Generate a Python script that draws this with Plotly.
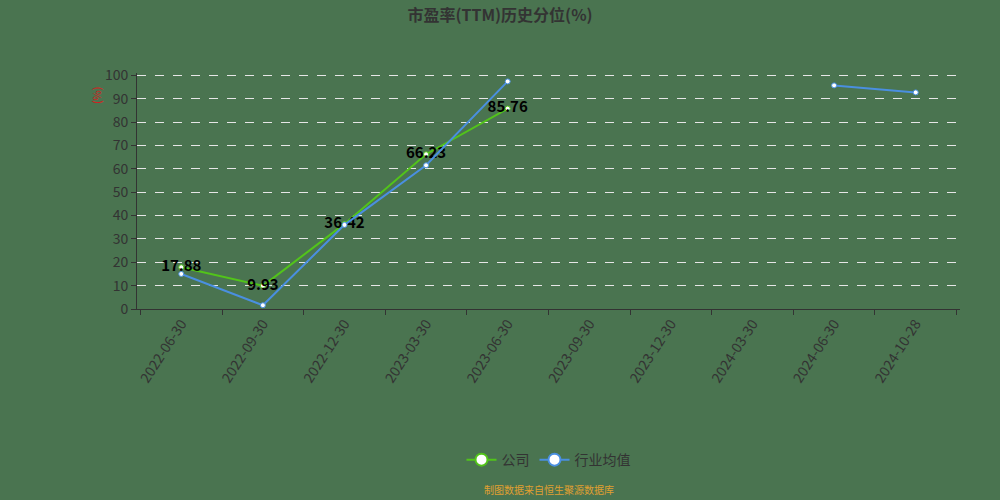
import plotly.graph_objects as go

# --- Data ---
dates = ['2022-06-30', '2022-09-30', '2022-12-30', '2023-03-30', '2023-06-30',
         '2023-09-30', '2023-12-30', '2024-03-30', '2024-06-30', '2024-10-28']
company = [17.88, 9.93, 36.42, 66.23, 85.76, None, None, None, None, None]
industry = [15.0, 1.6, 36.0, 61.5, 97.4, None, None, None, 95.7, 92.7]
company_labels = [f"{v:.2f}" if v is not None else "" for v in company]

BG = '#4a7450'
GREEN = '#52c41a'
BLUE = '#4a8fe0'
AXIS = '#333333'
FONT = 'Noto Sans CJK SC'

fig = go.Figure()

fig.add_scatter(
    x=dates, y=company, name='公司', mode='lines+markers+text',
    text=company_labels, textposition='middle center',
    textfont=dict(size=15, color='#000000', family=FONT, weight='bold'),
    line=dict(color=GREEN, width=2), legendgroup='c', showlegend=False,
    marker=dict(size=5, color='white', line=dict(color=GREEN, width=1)),
)
fig.add_scatter(
    x=dates, y=industry, name='行业均值', mode='lines+markers',
    line=dict(color=BLUE, width=2), legendgroup='i', showlegend=False,
    marker=dict(size=5, color='white', line=dict(color=BLUE, width=1)),
)

# legend-only entries with the bigger circle symbol
fig.add_scatter(x=[None], y=[None], name='公司', mode='lines+markers', legendgroup='c',
                line=dict(color=GREEN, width=2),
                marker=dict(size=12, color='white', line=dict(color=GREEN, width=2)))
fig.add_scatter(x=[None], y=[None], name='行业均值', mode='lines+markers', legendgroup='i',
                line=dict(color=BLUE, width=2),
                marker=dict(size=12, color='white', line=dict(color=BLUE, width=2)))

# --- Axis / layout styling ---
fig.update_xaxes(
    type='category', categoryorder='array', categoryarray=dates,
    tickson='boundaries', ticks='outside', ticklen=5, tickcolor=AXIS,
    showline=True, linecolor=AXIS, linewidth=1, showgrid=False,
    tickangle=-57, tickfont=dict(size=14, color=AXIS, family=FONT),
)
fig.update_yaxes(
    range=[0, 101], tickvals=list(range(0, 101, 10)), ticks='outside', ticklen=5,
    tickcolor=AXIS, showline=True, linecolor=AXIS, linewidth=1,
    gridcolor='#e6e6e6', griddash='dash', gridwidth=1, zeroline=False,
    tickfont=dict(size=14, color=AXIS, family=FONT),
)

fig.update_layout(
    width=1000, height=500,
    paper_bgcolor=BG, plot_bgcolor=BG,
    margin=dict(l=137, r=40, t=73, b=191),
    title=dict(text='<b>市盈率(TTM)历史分位(%)</b>', x=0.5, xanchor='center',
               y=0.97, yanchor='middle',
               font=dict(size=16, color=AXIS, family=FONT)),
    legend=dict(orientation='h', x=0.5, xanchor='center', y=-0.64, yanchor='middle',
                font=dict(size=14, color=AXIS, family=FONT),
                bgcolor='rgba(0,0,0,0)'),
    showlegend=True,
    annotations=[
        dict(text='(%)', textangle=-90, xref='paper', yref='paper',
             x=-0.049, y=0.905, xanchor='center', yanchor='middle', showarrow=False,
             font=dict(size=11, color='#d42020', family=FONT)),
        dict(text='制图数据来自恒生聚源数据库', xref='paper', yref='paper',
             x=0.5, y=-0.765, xanchor='center', yanchor='middle', showarrow=False,
             font=dict(size=10, color='#e0a030', family=FONT)),
    ],
)

fig.write_html("out.html", config={'displayModeBar': False},
               post_script="document.body.style.margin='0';")
